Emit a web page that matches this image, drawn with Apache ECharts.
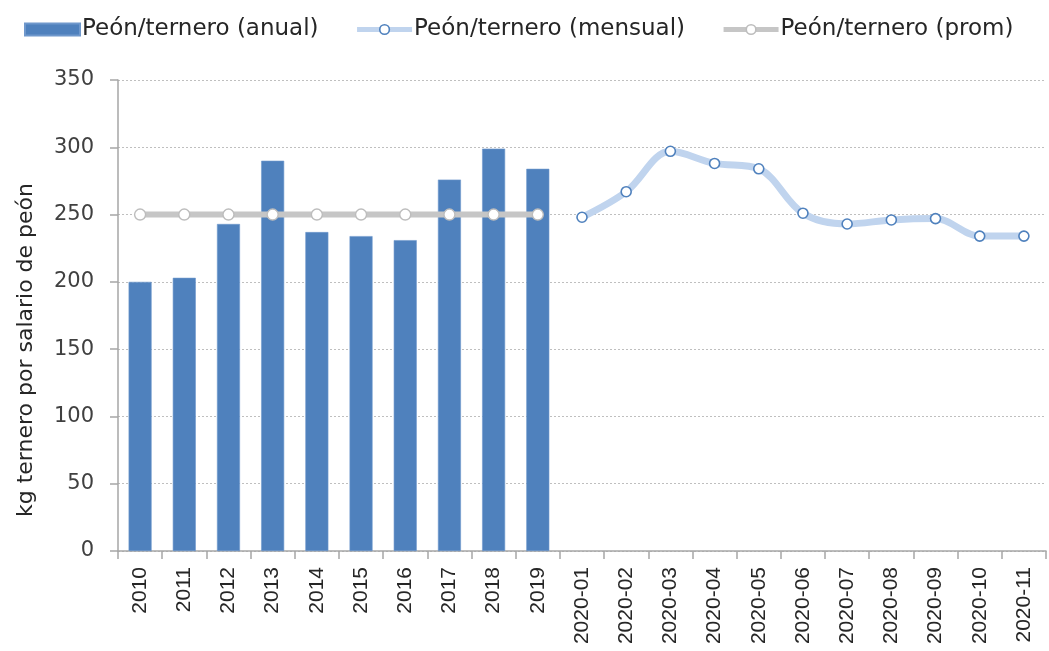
<!DOCTYPE html>
<html>
<head>
<meta charset="utf-8">
<script src="https://cdn.jsdelivr.net/npm/echarts@6/dist/echarts.min.js"></script>
<style>
  html, body { margin: 0; padding: 0; background: #fff; }
  #chart { width: 1049px; height: 651px; }
</style>
</head>
<body>
<div id="chart"></div>
<script>
// Periods: ten annual values followed by the 2020 monthly values
const categories = ['2010', '2011', '2012', '2013', '2014', '2015', '2016', '2017', '2018', '2019',
  '2020-01', '2020-02', '2020-03', '2020-04', '2020-05', '2020-06', '2020-07', '2020-08', '2020-09', '2020-10', '2020-11'];

// kg of calf per farmhand salary, yearly
const annualValues = [200, 203, 243, 290, 237, 234, 231, 276, 299, 284,
  null, null, null, null, null, null, null, null, null, null, null];

// kg of calf per farmhand salary, 2020 by month
const monthlyValues = [null, null, null, null, null, null, null, null, null, null,
  248, 267, 297, 288, 284, 251, 243, 246, 247, 234, 234];

// Average of the annual period
const averageValues = [250, 250, 250, 250, 250, 250, 250, 250, 250, 250,
  null, null, null, null, null, null, null, null, null, null, null];

const yTicks = { min: 0, max: 350, interval: 50 };

const seriesNames = ['Peón/ternero (anual)', 'Peón/ternero (mensual)', 'Peón/ternero (prom)'];
const yAxisTitle = 'kg ternero por salario de peón';

const chart = echarts.init(document.getElementById('chart'), null, { renderer: 'canvas' });

const sans = 'DejaVu Sans';
const labelFont = 'Liberation Sans';

const barColor = '#4f81bd';
const monthlyLine = '#c0d4ee';
const averageLine = '#c6c6c6';

chart.setOption({
  animation: false,
  backgroundColor: '#ffffff',
  legend: {
    top: 13,
    left: 19,
    itemGap: 36,
    itemWidth: 55,
    itemHeight: 12,
    textStyle: { fontFamily: sans, fontSize: 23, color: '#262626', padding: [0, 0, 0, -3] },
    data: [
      { name: seriesNames[0], icon: 'rect', itemStyle: { color: barColor } },
      {
        name: seriesNames[1],
        lineStyle: { color: monthlyLine, width: 5 },
        itemStyle: { color: '#ffffff', borderColor: barColor, borderWidth: 1.6 }
      },
      {
        name: seriesNames[2],
        lineStyle: { color: averageLine, width: 5 },
        itemStyle: { color: '#ffffff', borderColor: '#bdbdbd', borderWidth: 1.6 }
      }
    ]
  },
  grid: { left: 118, right: 3, top: 80, bottom: 100, containLabel: false },
  xAxis: {
    type: 'category',
    data: categories,
    boundaryGap: true,
    axisLine: { lineStyle: { color: '#a6a6a6', width: 1.5 } },
    axisTick: { show: true, length: 8, alignWithLabel: false, lineStyle: { color: '#a6a6a6', width: 1.5 } },
    axisLabel: {
      rotate: 90,
      interval: 0,
      margin: 16,
      fontFamily: labelFont,
      fontSize: 21,
      color: '#262626'
    },
    splitLine: { show: false }
  },
  yAxis: {
    type: 'value',
    min: yTicks.min,
    max: yTicks.max,
    interval: yTicks.interval,
    axisLine: { show: true, lineStyle: { color: '#a6a6a6', width: 1.5 } },
    axisTick: { show: true, length: 8, lineStyle: { color: '#a6a6a6', width: 1.5 } },
    axisLabel: { margin: 24, fontFamily: sans, fontSize: 21, color: '#404040' },
    splitLine: { show: true, lineStyle: { color: '#bfbfbf', type: [2, 2], width: 1 } }
  },
  graphic: [{
    type: 'text',
    x: 26,
    y: 350,
    rotation: Math.PI / 2,
    style: {
      text: yAxisTitle,
      fontFamily: sans,
      fontSize: 22,
      fill: '#262626',
      align: 'center',
      verticalAlign: 'middle'
    }
  }],
  series: [
    {
      name: seriesNames[0],
      type: 'bar',
      data: annualValues,
      barWidth: 23,
      itemStyle: { color: barColor, borderColor: '#6f98cc', borderWidth: 0.6 },
      z: 2
    },
    {
      name: seriesNames[1],
      type: 'line',
      data: monthlyValues,
      smooth: 0.35,
      symbol: 'circle',
      symbolSize: 10,
      showAllSymbol: true,
      lineStyle: { color: monthlyLine, width: 7 },
      itemStyle: { color: '#ffffff', borderColor: barColor, borderWidth: 1.6 },
      z: 3
    },
    {
      name: seriesNames[2],
      type: 'line',
      data: averageValues,
      symbol: 'circle',
      symbolSize: 11,
      showAllSymbol: true,
      lineStyle: { color: averageLine, width: 6 },
      itemStyle: { color: '#ffffff', borderColor: '#bdbdbd', borderWidth: 1.4 },
      z: 4
    }
  ]
});
</script>
</body>
</html>
